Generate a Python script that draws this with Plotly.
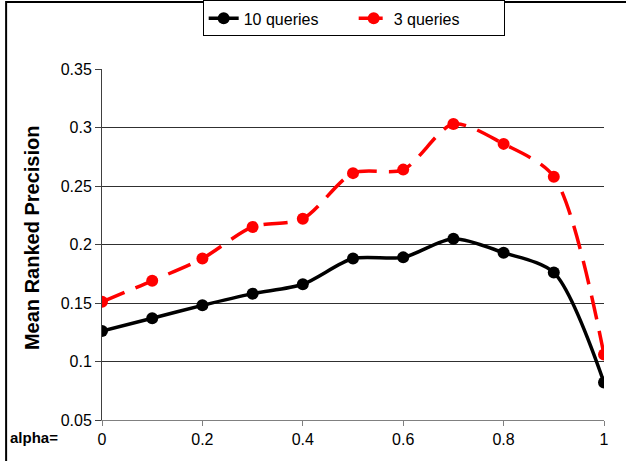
import plotly.graph_objects as go

alpha = [0, 0.1, 0.2, 0.3, 0.4, 0.5, 0.6, 0.7, 0.8, 0.9, 1.0]
q10 = [0.126, 0.137, 0.148, 0.158, 0.166, 0.188, 0.189, 0.205, 0.193, 0.176, 0.082]
q3 = [0.151, 0.169, 0.188, 0.215, 0.222, 0.261, 0.264, 0.303, 0.286, 0.258, 0.106]
x_ticks = [0, 0.2, 0.4, 0.6, 0.8, 1]
y_ticks = [0.05, 0.1, 0.15, 0.2, 0.25, 0.3, 0.35]

fig = go.Figure()
fig.add_trace(go.Scatter(
    x=alpha, y=q10, name="10 queries", mode="lines+markers",
    line=dict(color="#000000", width=3.5, shape="spline", smoothing=0.8),
    marker=dict(color="#000000", size=12),
))
fig.add_trace(go.Scatter(
    x=alpha, y=q3, name="3 queries", mode="lines+markers",
    line=dict(color="#FF0000", width=3.5, shape="spline", smoothing=0.8, dash="24px,12px"),
    marker=dict(color="#FF0000", size=12),
))

font = "Liberation Sans, Arial, sans-serif"
fig.update_layout(
    width=626, height=461,
    margin=dict(l=102, r=22, t=69, b=41, autoexpand=False),
    paper_bgcolor="white", plot_bgcolor="white",
    font=dict(family=font, size=16, color="black"),
    showlegend=True,
    legend=dict(
        orientation="h", xref="container", yref="container",
        x=0.565, y=0.999, xanchor="center", yanchor="top",
        bordercolor="black", borderwidth=1, bgcolor="white",
        font=dict(size=16), tracegroupgap=0, entrywidth=105,
    ),
    xaxis=dict(
        range=[0, 1], tickvals=x_ticks, ticktext=["0", "0.2", "0.4", "0.6", "0.8", "1"],
        showgrid=False, zeroline=False, showline=True, linecolor="#808080", linewidth=1,
        ticks="outside", ticklen=5, tickcolor="#808080", fixedrange=True,
        tickfont=dict(size=16),
    ),
    yaxis=dict(
        range=[0.05, 0.35], tickvals=y_ticks,
        ticktext=["0.05", "0.1", "0.15", "0.2", "0.25", "0.3", "0.35"],
        showgrid=True, gridcolor="#303030", gridwidth=1, zeroline=False,
        showline=True, linecolor="#404040", linewidth=1,
        ticks="outside", ticklen=6, tickcolor="#404040", fixedrange=True,
        tickfont=dict(size=16),
    ),
    annotations=[
        dict(text="<b>Mean Ranked Precision</b>", textangle=-90, xref="paper", yref="paper",
             x=-0.139, y=0.519, xanchor="center", yanchor="middle", showarrow=False,
             font=dict(size=20, family=font)),
        dict(text="<b>alpha=</b>", xref="paper", yref="paper",
             x=-0.135, y=-0.051, xanchor="center", yanchor="middle", showarrow=False,
             font=dict(size=15, family=font)),
    ],
    shapes=[
        dict(type="rect", xref="paper", yref="paper", x0=-0.191, x1=1.2, y0=-0.3, y1=1.191,
             line=dict(color="black", width=2), layer="below"),
    ],
)
fig.write_html("out.html", config={"displayModeBar": False},
               post_script="document.body.style.margin='0';document.body.style.overflow='hidden';")
